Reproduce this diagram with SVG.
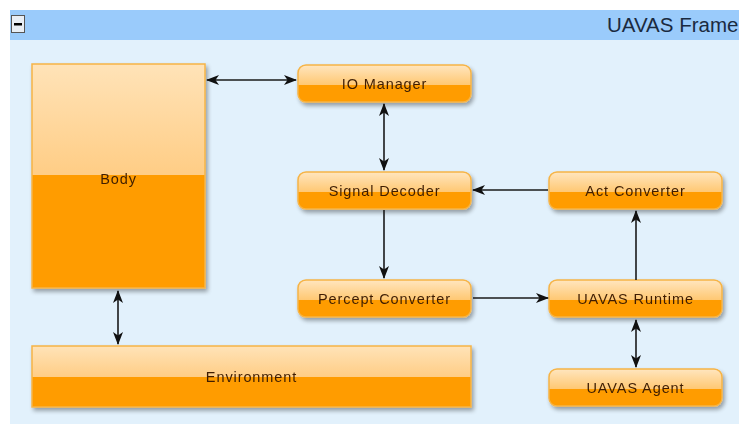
<svg xmlns="http://www.w3.org/2000/svg" width="739" height="424" viewBox="0 0 739 424">
<defs>
<style>
.lbl{font-family:"Liberation Sans",Arial,sans-serif;font-size:14.5px;letter-spacing:0.9px;fill:#3f1f05;text-anchor:middle;dominant-baseline:central}
.edge{stroke:#1a1a1a;stroke-width:1.6;fill:none}
.nb{stroke:#f6b447;stroke-width:1.5}
</style>
<linearGradient id="gTop" x1="0" y1="0" x2="0" y2="1">
<stop offset="0" stop-color="#ffe6bf"/>
<stop offset="1" stop-color="#ffc872"/>
</linearGradient>
<linearGradient id="gBody" x1="0" y1="0" x2="0" y2="1">
<stop offset="0" stop-color="#ffe3b8"/>
<stop offset="1" stop-color="#ffcd85"/>
</linearGradient>
<filter id="sh" x="-10%" y="-20%" width="130%" height="160%">
<feGaussianBlur in="SourceAlpha" stdDeviation="2"/>
<feOffset dx="2" dy="3" result="b"/>
<feComponentTransfer><feFuncA type="linear" slope="0.35"/></feComponentTransfer>
<feMerge><feMergeNode/><feMergeNode in="SourceGraphic"/></feMerge>
</filter>
<clipPath id="cR"><rect x="0" y="0" width="173" height="37" rx="8"/></clipPath>
<marker id="ah" viewBox="0 0 13 10" refX="12" refY="5" markerWidth="13" markerHeight="10" markerUnits="userSpaceOnUse" orient="auto-start-reverse">
<path d="M0,0 L13,5 L0,10 L3.5,5 Z" fill="#111"/>
</marker>
<g id="node">
<rect x="0" y="0" width="173" height="37" rx="8" fill="#ff9c00"/>
<rect x="0" y="0" width="173" height="20" fill="url(#gTop)" clip-path="url(#cR)"/>
<rect x="0" y="0" width="173" height="37" rx="8" fill="none" class="nb"/>
</g>
</defs>
<rect x="0" y="0" width="739" height="424" fill="#ffffff"/>
<g id="frame">
<rect x="10" y="10" width="729" height="414" fill="#e2f1fc"/>
<rect x="10" y="10" width="729" height="30" fill="#9acbfb"/>
<rect x="11.5" y="15.5" width="13" height="17" fill="#e8eef5" stroke="#555" stroke-width="1"/>
<rect x="14" y="23" width="8" height="2.5" fill="#000"/>
<text x="607" y="32" style="font-family:'Liberation Sans',Arial,sans-serif;font-size:20.5px;fill:#1a2a40">UAVAS Frame</text>
</g>
<g id="body" filter="url(#sh)">
<rect x="32" y="64" width="173" height="224" fill="#ff9c00"/>
<rect x="32" y="64" width="173" height="111" fill="url(#gBody)"/>
<rect x="32" y="64" width="173" height="224" fill="none" class="nb"/>
<text x="118.5" y="179" class="lbl">Body</text>
</g>
<g id="environment" filter="url(#sh)">
<rect x="32" y="346" width="439" height="61" fill="#ff9c00"/>
<rect x="32" y="346" width="439" height="31" fill="url(#gBody)"/>
<rect x="32" y="346" width="439" height="61" fill="none" class="nb"/>
<text x="251.5" y="377" class="lbl">Environment</text>
</g>
<g id="io-manager" filter="url(#sh)">
<use href="#node" x="298" y="65"/>
<text x="384.5" y="84" class="lbl">IO Manager</text>
</g>
<g id="signal-decoder" filter="url(#sh)">
<use href="#node" x="298" y="172"/>
<text x="384.5" y="191" class="lbl">Signal Decoder</text>
</g>
<g id="percept-converter" filter="url(#sh)">
<use href="#node" x="298" y="280"/>
<text x="384.5" y="299" class="lbl">Percept Converter</text>
</g>
<g id="act-converter" filter="url(#sh)">
<use href="#node" x="549" y="172"/>
<text x="635.5" y="191" class="lbl">Act Converter</text>
</g>
<g id="uavas-runtime" filter="url(#sh)">
<use href="#node" x="549" y="280"/>
<text x="635.5" y="299" class="lbl">UAVAS Runtime</text>
</g>
<g id="uavas-agent" filter="url(#sh)">
<use href="#node" x="549" y="369"/>
<text x="635.5" y="388" class="lbl">UAVAS Agent</text>
</g>
<g id="connectors">
<line x1="207" y1="80" x2="296" y2="80" class="edge" marker-start="url(#ah)" marker-end="url(#ah)"/>
<line x1="384" y1="104" x2="384" y2="170" class="edge" marker-start="url(#ah)" marker-end="url(#ah)"/>
<line x1="548" y1="190" x2="473" y2="190" class="edge" marker-end="url(#ah)"/>
<line x1="384" y1="210" x2="384" y2="278" class="edge" marker-end="url(#ah)"/>
<line x1="473" y1="298" x2="548" y2="298" class="edge" marker-end="url(#ah)"/>
<line x1="636" y1="280" x2="636" y2="211" class="edge" marker-end="url(#ah)"/>
<line x1="636" y1="320" x2="636" y2="367" class="edge" marker-start="url(#ah)" marker-end="url(#ah)"/>
<line x1="118" y1="291" x2="118" y2="344" class="edge" marker-start="url(#ah)" marker-end="url(#ah)"/>
</g>
</svg>
